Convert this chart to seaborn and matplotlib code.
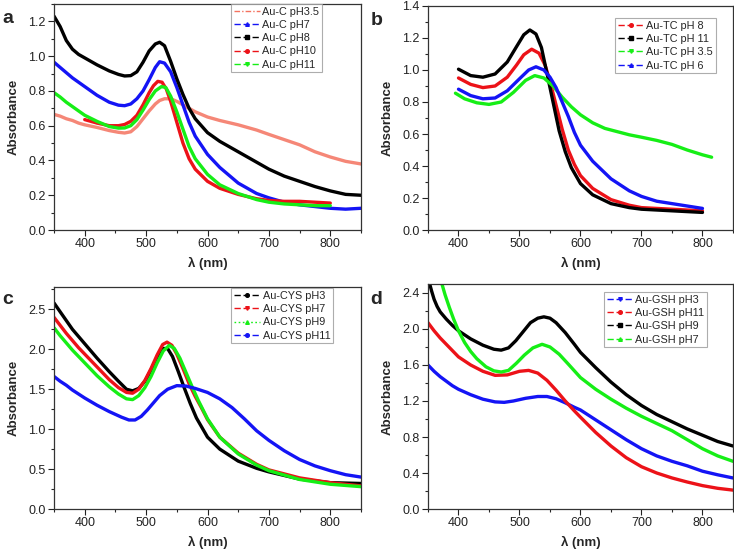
import numpy as np
import pandas as pd
import matplotlib
matplotlib.use("Agg")
import matplotlib.pyplot as plt
from matplotlib.lines import Line2D
from matplotlib.ticker import MultipleLocator, FormatStrFormatter
import seaborn as sns

# ---- panel a : Au-C ----
a_wl = [350, 360, 370, 380, 390, 400, 420, 440, 455, 465, 475, 485, 495, 505, 515, 522, 530, 540,
        550, 560, 570, 580, 600, 620, 650, 680, 700, 725, 750, 775, 800, 825, 850]
a_ph35 = [0.665, 0.655, 0.64, 0.63, 0.615, 0.605, 0.59, 0.572, 0.562, 0.558, 0.565, 0.595, 0.64,
          0.685, 0.725, 0.745, 0.755, 0.755, 0.74, 0.72, 0.70, 0.68, 0.65, 0.63, 0.605, 0.575, 0.55,
          0.52, 0.49, 0.45, 0.42, 0.395, 0.38]
a_ph7 = [0.965, 0.935, 0.905, 0.875, 0.85, 0.825, 0.775, 0.735, 0.718, 0.715, 0.725, 0.755, 0.80,
         0.865, 0.935, 0.968, 0.96, 0.91, 0.82, 0.72, 0.62, 0.54, 0.435, 0.36, 0.27, 0.21, 0.185,
         0.16, 0.145, 0.135, 0.125, 0.12, 0.125]
a_ph8 = [1.23, 1.17, 1.09, 1.04, 1.01, 0.99, 0.95, 0.915, 0.895, 0.886, 0.888, 0.91, 0.965, 1.03,
         1.07, 1.08, 1.06, 0.97, 0.87, 0.78, 0.70, 0.64, 0.56, 0.51, 0.45, 0.39, 0.35, 0.31, 0.28,
         0.25, 0.225, 0.205, 0.20]
a_wl10 = [400, 420, 440, 455, 465, 475, 485, 495, 505, 512, 519, 526, 533, 540, 550, 560, 570, 580,
          600, 620, 650, 680, 700, 725, 750, 775, 800]
a_ph10 = [0.635, 0.615, 0.60, 0.60, 0.607, 0.625, 0.66, 0.72, 0.79, 0.83, 0.855, 0.85, 0.81, 0.74,
          0.62, 0.50, 0.41, 0.35, 0.28, 0.24, 0.205, 0.18, 0.17, 0.165, 0.165, 0.16, 0.155]
a_wl11 = [350, 360, 370, 380, 390, 400, 420, 440, 455, 465, 475, 485, 495, 505, 515, 525, 532, 540,
          550, 560, 570, 580, 600, 620, 650, 680, 700, 725, 750, 775, 800]
a_ph11 = [0.79, 0.765, 0.735, 0.71, 0.685, 0.66, 0.625, 0.595, 0.586, 0.587, 0.60, 0.635, 0.69,
          0.75, 0.80, 0.825, 0.82, 0.77, 0.68, 0.58, 0.48, 0.41, 0.32, 0.26, 0.21, 0.175, 0.16,
          0.15, 0.145, 0.14, 0.14]

# ---- panel b : Au-TC ----
b_wl8 = [400, 420, 440, 460, 480, 495, 507, 520, 532, 542, 550, 560, 570, 580, 590, 600, 620, 650,
         680, 700, 750, 800]
b_ph8 = [0.95, 0.91, 0.89, 0.90, 0.955, 1.03, 1.095, 1.13, 1.105, 1.03, 0.93, 0.78, 0.63, 0.50,
         0.41, 0.34, 0.26, 0.19, 0.155, 0.14, 0.13, 0.12]
b_wl11 = [400, 420, 440, 460, 480, 495, 507, 517, 527, 536, 545, 555, 565, 575, 585, 600, 620, 650,
          680, 700, 750, 800]
b_ph11 = [1.005, 0.965, 0.955, 0.975, 1.05, 1.145, 1.22, 1.25, 1.225, 1.14, 0.98, 0.80, 0.62, 0.49,
          0.39, 0.29, 0.22, 0.165, 0.14, 0.13, 0.12, 0.11]
b_wl35 = [395, 410, 430, 450, 470, 490, 510, 525, 540, 555, 570, 585, 600, 620, 640, 660, 680, 700,
          725, 750, 775, 800, 815]
b_ph35 = [0.855, 0.82, 0.795, 0.785, 0.80, 0.86, 0.935, 0.965, 0.95, 0.90, 0.83, 0.77, 0.72, 0.67,
          0.635, 0.615, 0.595, 0.58, 0.56, 0.535, 0.50, 0.47, 0.455]
b_wl6 = [400, 420, 440, 460, 480, 500, 515, 527, 540, 550, 560, 570, 580, 590, 600, 620, 650, 680,
         700, 725, 750, 775, 800]
b_ph6 = [0.88, 0.84, 0.82, 0.825, 0.87, 0.945, 1.00, 1.02, 1.00, 0.955, 0.89, 0.80, 0.71, 0.61, 0.53,
         0.43, 0.32, 0.245, 0.21, 0.18, 0.165, 0.15, 0.135]

# ---- panel c : Au-CYS ----
c_wl3 = [350, 360, 370, 380, 390, 400, 420, 440, 455, 468, 478, 488, 498, 508, 518, 528, 535, 543,
         552, 562, 572, 582, 600, 620, 650, 680, 700, 750, 800, 850]
c_ph3 = [2.58, 2.47, 2.36, 2.25, 2.16, 2.07, 1.89, 1.72, 1.60, 1.50, 1.48, 1.51, 1.60, 1.74, 1.90,
         2.01, 2.01, 1.91, 1.73, 1.52, 1.32, 1.14, 0.90, 0.75, 0.60, 0.51, 0.465, 0.375, 0.33, 0.32]
c_wl7 = [350, 360, 370, 380, 390, 400, 420, 440, 455, 468, 478, 488, 498, 508, 518, 527, 534, 542,
         550, 560, 570, 580, 590, 600, 620, 650, 680, 700, 750, 800, 850]
c_ph7 = [2.40, 2.30, 2.20, 2.11, 2.02, 1.94, 1.78, 1.62, 1.52, 1.46, 1.45, 1.50, 1.61, 1.76, 1.93,
         2.06, 2.09, 2.05, 1.94, 1.76, 1.57, 1.41, 1.27, 1.12, 0.90, 0.70, 0.56, 0.49, 0.39, 0.33,
         0.29]
c_wl9 = [350, 360, 370, 380, 390, 400, 420, 440, 455, 468, 478, 488, 498, 508, 518, 528, 538, 546,
         555, 565, 575, 585, 600, 620, 650, 680, 700, 750, 800, 850]
c_ph9 = [2.27, 2.17, 2.08, 1.99, 1.91, 1.83, 1.67, 1.53, 1.44, 1.38, 1.37, 1.42, 1.52, 1.66, 1.83,
         1.98, 2.05, 2.01, 1.89, 1.71, 1.53, 1.36, 1.13, 0.90, 0.69, 0.55, 0.48, 0.37, 0.31, 0.28]
c_wl11 = [350, 360, 370, 380, 390, 400, 420, 440, 460, 472, 482, 492, 502, 512, 522, 535, 550, 565,
          580, 600, 620, 640, 660, 680, 700, 725, 750, 775, 800, 825, 850]
c_ph11 = [1.66, 1.60, 1.55, 1.49, 1.44, 1.39, 1.30, 1.22, 1.15, 1.115, 1.115, 1.16, 1.24, 1.33, 1.42,
          1.50, 1.545, 1.54, 1.51, 1.46, 1.38, 1.27, 1.13, 0.98, 0.86, 0.73, 0.62, 0.54, 0.48, 0.43,
          0.40]

# ---- panel d : Au-GSH ----
d_wl3 = [350, 360, 370, 380, 390, 400, 420, 440, 460, 475, 490, 510, 530, 545, 560, 575, 590, 600,
         625, 650, 675, 700, 725, 750, 775, 800, 825, 850]
d_ph3 = [1.60, 1.53, 1.47, 1.42, 1.37, 1.33, 1.27, 1.22, 1.19, 1.185, 1.20, 1.23, 1.25, 1.25, 1.225,
         1.18, 1.13, 1.10, 0.99, 0.88, 0.77, 0.67, 0.59, 0.53, 0.48, 0.42, 0.38, 0.345]
d_wl11 = [350, 360, 370, 380, 390, 400, 420, 440, 460, 480, 500, 515, 530, 545, 560, 575, 590, 600,
          625, 650, 675, 700, 725, 750, 775, 800, 825, 850]
d_ph11 = [2.07, 1.98, 1.90, 1.83, 1.76, 1.69, 1.60, 1.53, 1.485, 1.49, 1.53, 1.54, 1.51, 1.43, 1.32,
          1.20, 1.09, 1.02, 0.85, 0.70, 0.57, 0.47, 0.40, 0.345, 0.30, 0.26, 0.23, 0.21]
d_wl9 = [352, 356, 360, 365, 370, 380, 390, 400, 420, 440, 458, 470, 482, 494, 506, 518, 530, 540,
         550, 560, 575, 590, 600, 625, 650, 675, 700, 725, 750, 775, 800, 825, 850]
d_ph9 = [2.52, 2.42, 2.33, 2.25, 2.19, 2.11, 2.04, 1.98, 1.89, 1.82, 1.775, 1.765, 1.79, 1.87, 1.97,
         2.07, 2.12, 2.135, 2.12, 2.07, 1.96, 1.83, 1.74, 1.57, 1.41, 1.27, 1.15, 1.05, 0.97, 0.89,
         0.82, 0.75, 0.70]
d_wl7 = [372, 378, 385, 392, 400, 410, 420, 430, 445, 458, 470, 482, 495, 508, 522, 537, 550, 565,
         580, 600, 625, 650, 675, 700, 725, 750, 775, 800, 825, 850]
d_ph7 = [2.52, 2.38, 2.24, 2.11, 1.98, 1.85, 1.75, 1.67, 1.58, 1.535, 1.522, 1.54, 1.62, 1.71, 1.79,
         1.83, 1.80, 1.72, 1.61, 1.46, 1.33, 1.22, 1.12, 1.03, 0.95, 0.87, 0.77, 0.67, 0.59, 0.53]

SALMON = "#F4725F"
BLUE = "#1414F5"
BLACK = "#000000"
RED = "#EC1218"
GREEN = "#16EE16"

DASH = (0, (4.5, 2.0))

panels = [
    dict(letter="a", ylim=1.3, ystep=0.2, legend_xy=(0.873, 1.0), series=[
        ("Au-C pH3.5", a_wl, a_ph35, SALMON, "", (0, (4, 1.5, 1, 1.5))),
        ("Au-C pH7", a_wl, a_ph7, BLUE, "^", DASH),
        ("Au-C pH8", a_wl, a_ph8, BLACK, "s", DASH),
        ("Au-C pH10", a_wl10, a_ph10, RED, "o", DASH),
        ("Au-C pH11", a_wl11, a_ph11, GREEN, "v", DASH),
    ]),
    dict(letter="b", ylim=1.4, ystep=0.2, legend_xy=(0.944, 0.946), series=[
        ("Au-TC pH 8", b_wl8, b_ph8, RED, "o", DASH),
        ("Au-TC pH 11", b_wl11, b_ph11, BLACK, "s", DASH),
        ("Au-TC pH 3.5", b_wl35, b_ph35, GREEN, "v", DASH),
        ("Au-TC pH 6", b_wl6, b_ph6, BLUE, "^", DASH),
    ]),
    dict(letter="c", ylim=2.78, ystep=0.5, legend_xy=(0.909, 0.995), series=[
        ("Au-CYS pH3", c_wl3, c_ph3, BLACK, "o", DASH),
        ("Au-CYS pH7", c_wl7, c_ph7, RED, "v", DASH),
        ("Au-CYS pH9", c_wl9, c_ph9, GREEN, "^", (0, (1.2, 1.8))),
        ("Au-CYS pH11", c_wl11, c_ph11, BLUE, "o", DASH),
    ]),
    dict(letter="d", ylim=2.5, ystep=0.4, legend_xy=(0.915, 0.964), series=[
        ("Au-GSH pH3", d_wl3, d_ph3, BLUE, "v", DASH),
        ("Au-GSH pH11", d_wl11, d_ph11, RED, "o", DASH),
        ("Au-GSH pH9", d_wl9, d_ph9, BLACK, "s", DASH),
        ("Au-GSH pH7", d_wl7, d_ph7, GREEN, "^", DASH),
    ]),
]

# axes boxes in figure fractions (left, bottom, width, height)
boxes = [
    (0.0736, 0.5848, 0.4182, 0.4080),
    (0.5831, 0.5848, 0.4155, 0.4044),
    (0.0736, 0.0812, 0.4182, 0.4007),
    (0.5831, 0.0812, 0.4155, 0.4062),
]
letter_pos = [(0.003, 0.958), (0.505, 0.955), (0.003, 0.452), (0.505, 0.452)]

sns.set_theme(style="ticks")
plt.rcParams["font.family"] = ["Liberation Sans", "DejaVu Sans"]
plt.rcParams["lines.solid_joinstyle"] = "round"
plt.rcParams["lines.solid_capstyle"] = "round"

fig = plt.figure(figsize=(7.34, 5.54), dpi=100)

for p, box, lp in zip(panels, boxes, letter_pos):
    ax = fig.add_axes(box)
    handles = []
    for label, wl, ab, col, mk, ls in p["series"]:
        df = pd.DataFrame({"wl": wl, "abs": ab})
        sns.lineplot(data=df, x="wl", y="abs", ax=ax, color=col, lw=2.4, sort=False,
                     alpha=0.85 if col == SALMON else 1.0)
        handles.append(Line2D([], [], color=col, lw=1.0, ls=ls, marker=mk if mk else None,
                              ms=2.6, label=label))
    ax.set_xlim(350, 850)
    ax.set_ylim(0, p["ylim"])
    ax.xaxis.set_major_locator(MultipleLocator(100))
    ax.xaxis.set_minor_locator(MultipleLocator(50))
    ax.yaxis.set_major_locator(MultipleLocator(p["ystep"]))
    ax.yaxis.set_minor_locator(MultipleLocator(p["ystep"] / 2))
    ax.yaxis.set_major_formatter(FormatStrFormatter("%.1f"))
    ax.tick_params(which="major", length=4, width=0.8, labelsize=9, pad=2, colors="#222222")
    ax.tick_params(which="minor", length=2.5, width=0.8)
    for s in ax.spines.values():
        s.set_linewidth(0.9)
        s.set_color("#333333")
    ax.set_xlabel("λ (nm)", fontsize=9.5, fontweight="bold", labelpad=5)
    ax.set_ylabel("Absorbance", fontsize=9.5, fontweight="bold", labelpad=6)
    leg = ax.legend(handles=handles, loc="upper right", bbox_to_anchor=p["legend_xy"],
                    borderaxespad=0, fontsize=7.8, frameon=True, fancybox=False,
                    handlelength=2.4, handletextpad=0.25, labelspacing=0.3,
                    borderpad=0.25, numpoints=1)
    leg.get_frame().set_edgecolor("#999999")
    leg.get_frame().set_linewidth(0.8)
    fig.text(lp[0], lp[1], p["letter"], fontsize=14, fontweight="bold")

fig.savefig("out.png", dpi=100)
